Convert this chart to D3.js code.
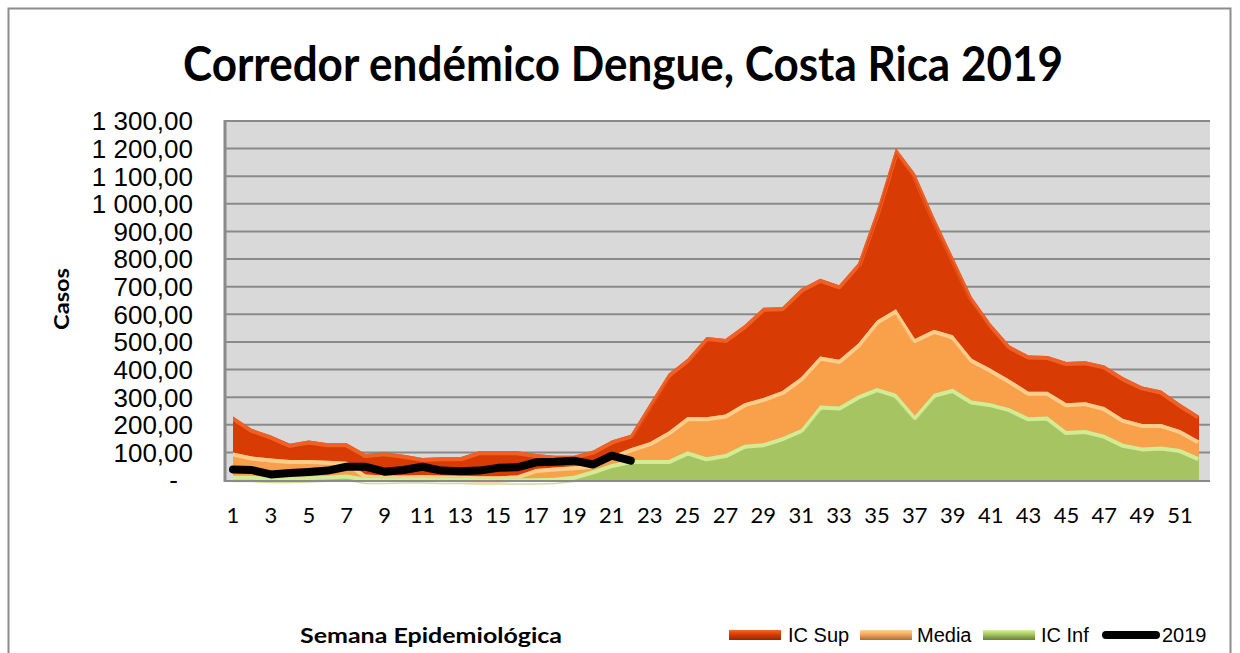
<!DOCTYPE html>
<html lang="es">
<head>
<meta charset="utf-8">
<title>Corredor endémico Dengue</title>
<script src="https://cdn.jsdelivr.net/npm/d3@7"></script>
<style>
  body { margin: 0; background: #fff; }
  svg { display: block; }
</style>
</head>
<body>
<script>

// Semanas epidemiologicas
var weeks = [1,2,3,4,5,6,7,8,9,10,11,12,13,14,15,16,17,18,19,20,21,22,23,24,25,26,
             27,28,29,30,31,32,33,34,35,36,37,38,39,40,41,42,43,44,45,46,47,48,49,50,51,52];

// Series del corredor
var icSup = [230,185,161,131,143,133,133,94,100,91,80,82,82,104,104,104,94,88,88,106,143,164,
             275,385,439,518,511,560,624,626,693,729,705,784,977,1201,1110,953,808,663,566,487,
             451,449,427,430,415,372,339,324,276,233];
var media = [100,85,78,72,72,70,66,20,16,16,18,16,15,14,14,16,40,45,50,55,88,115,
             137,176,228,227,237,278,297,322,372,447,435,493,578,618,511,544,524,439,403,363,
             320,320,278,282,264,221,203,203,181,143];
var icInf = [15,15,12,12,14,16,20,8,8,10,10,8,8,6,6,6,6,8,15,35,58,72,
             72,72,104,82,94,128,133,155,185,270,266,306,333,312,233,312,330,288,278,260,
             227,230,177,181,164,131,118,121,112,82];
// Casos 2019 (semanas 1 a 22)
var y2019 = [38,36,20,25,29,34,48,48,30,36,48,34,32,34,44,46,64,66,70,56,88,70];

var yTicks = [0,100,200,300,400,500,600,700,800,900,1000,1100,1200,1300];
var xTickLabels = [1,3,5,7,9,11,13,15,17,19,21,23,25,27,29,31,33,35,37,39,41,43,45,47,49,51];

var seriesNames = ["IC Sup", "Media", "IC Inf", "2019"];

// Canvas
var w = 1240, h = 653;
var plotL = 225, plotR = 1210, plotT = 121, plotB = 480;

var svg = d3.select("body").append("svg")
  .attr("width", w)
  .attr("height", h);

var defs = svg.append("defs");

// outer chart border
svg.append("rect")
  .attr("x", 8.5).attr("y", 8.5)
  .attr("width", 1222).attr("height", 660)
  .attr("fill", "#fff")
  .attr("stroke", "#8c8c8c")
  .attr("stroke-width", 2);

// Scales
var x = d3.scalePoint().domain(weeks).range([233, 1199]);
var y = d3.scaleLinear().domain([0, 1300]).range([plotB, plotT]);

// plot background
svg.append("rect")
  .attr("x", plotL).attr("y", plotT)
  .attr("width", plotR - plotL).attr("height", plotB - plotT)
  .attr("fill", "#d9d9d9");

// gridlines
svg.append("g")
  .selectAll("line")
  .data(yTicks.slice(1))
  .enter().append("line")
  .attr("x1", plotL).attr("x2", plotR)
  .attr("y1", function(d) { return y(d); })
  .attr("y2", function(d) { return y(d); })
  .attr("stroke", "#8a8a8a")
  .attr("stroke-width", 2);

// left axis line
svg.append("line")
  .attr("x1", plotL).attr("x2", plotL)
  .attr("y1", plotT - 1).attr("y2", plotB + 2)
  .attr("stroke", "#8a8a8a").attr("stroke-width", 3);

// areas (overlapping, back to front)
var layers = [
  { name: "sup", values: icSup, fill: "#d83b03", edge: "#f4672c" },
  { name: "med", values: media, fill: "#f9a04b", edge: "#fdd596" },
  { name: "inf", values: icInf, fill: "#a6c462", edge: "#daf29e" }
];

var area = d3.area()
  .x(function(d, i) { return x(weeks[i]); })
  .y0(y(0))
  .y1(function(d) { return y(d); });

var topLine = d3.line()
  .x(function(d, i) { return x(weeks[i]); })
  .y(function(d) { return y(d); });

layers.forEach(function(l) {
  defs.append("clipPath")
    .attr("id", "clip-" + l.name)
    .append("path")
    .attr("d", area(l.values));

  svg.append("path")
    .attr("d", area(l.values))
    .attr("fill", l.fill);

  // bevel highlight along the top edge
  svg.append("path")
    .attr("d", topLine(l.values))
    .attr("clip-path", "url(#clip-" + l.name + ")")
    .attr("fill", "none")
    .attr("stroke", l.edge)
    .attr("stroke-width", 8)
    .attr("stroke-linejoin", "round")
    .attr("opacity", 0.85);
  svg.append("path")
    .attr("d", topLine(l.values))
    .attr("transform", "translate(0,5)")
    .attr("clip-path", "url(#clip-" + l.name + ")")
    .attr("fill", "none")
    .attr("stroke", l.fill)
    .attr("stroke-width", 3)
    .attr("stroke-linejoin", "round")
    .attr("opacity", 0.6);
});

// bottom axis line
svg.append("line")
  .attr("x1", plotL).attr("x2", plotR)
  .attr("y1", plotB + 1).attr("y2", plotB + 1)
  .attr("stroke", "#8a8a8a").attr("stroke-width", 2);

// 2019 line
var line2019 = d3.line()
  .x(function(d, i) { return x(weeks[i]); })
  .y(function(d) { return y(d); });

svg.append("path")
  .attr("d", line2019(y2019))
  .attr("fill", "none")
  .attr("stroke", "#000")
  .attr("stroke-width", 8)
  .attr("stroke-linecap", "round")
  .attr("stroke-linejoin", "round");

// Y axis labels (formato es: espacio miles, coma decimal)
var loc = d3.formatLocale({ decimal: ",", thousands: "\u00a0", grouping: [3], currency: ["", ""] });
var fmt = loc.format(",.2f");

svg.append("g")
  .selectAll("text")
  .data(yTicks)
  .enter().append("text")
  .attr("x", function(d) { return d === 0 ? 178 : 193; })
  .attr("y", function(d) { return y(d); })
  .attr("dy", "0.36em")
  .attr("text-anchor", "end")
  .attr("font-family", "Liberation Sans, Arial, sans-serif")
  .attr("font-size", 26)
  .attr("fill", "#000")
  .text(function(d) { return d === 0 ? "-" : fmt(d); });

// X axis labels
svg.append("g")
  .selectAll("text")
  .data(xTickLabels)
  .enter().append("text")
  .attr("x", function(d) { return x(d); })
  .attr("y", 523)
  .attr("text-anchor", "middle")
  .attr("font-family", "Lato, sans-serif")
  .attr("font-size", 22)
  .attr("fill", "#000")
  .text(function(d) { return d; });

// Title
svg.append("text")
  .attr("x", 183)
  .attr("y", 81)
  .attr("font-family", "Lato, sans-serif")
  .attr("font-weight", "bold")
  .attr("font-size", 47)
  .attr("textLength", 880)
  .attr("lengthAdjust", "spacingAndGlyphs")
  .text("Corredor endémico Dengue, Costa Rica 2019");

// Axis titles
svg.append("text")
  .attr("transform", "translate(69,299) rotate(-90)")
  .attr("text-anchor", "middle")
  .attr("font-family", "Lato, sans-serif")
  .attr("font-weight", "bold")
  .attr("font-size", 21)
  .attr("textLength", 62)
  .attr("lengthAdjust", "spacingAndGlyphs")
  .text("Casos");

svg.append("text")
  .attr("x", 300)
  .attr("y", 643)
  .attr("font-family", "Lato, sans-serif")
  .attr("font-weight", "bold")
  .attr("font-size", 21)
  .attr("textLength", 262)
  .attr("lengthAdjust", "spacingAndGlyphs")
  .text("Semana Epidemiológica");

// Legend
var swatchGrads = [
  { id: "g-sup", top: "#f4672c", mid: "#d83b03", bot: "#8e2a06" },
  { id: "g-med", top: "#fdd596", mid: "#f5a55a", bot: "#a8703c" },
  { id: "g-inf", top: "#daf29e", mid: "#a6c462", bot: "#667f36" }
];
swatchGrads.forEach(function(g) {
  var lg = defs.append("linearGradient")
    .attr("id", g.id)
    .attr("x1", 0).attr("y1", 0).attr("x2", 0).attr("y2", 1);
  lg.append("stop").attr("offset", "0%").attr("stop-color", g.top);
  lg.append("stop").attr("offset", "45%").attr("stop-color", g.mid);
  lg.append("stop").attr("offset", "100%").attr("stop-color", g.bot);
});

var legendItems = [
  { label: seriesNames[0], sx: 729, tx: 788, grad: "g-sup" },
  { label: seriesNames[1], sx: 860, tx: 917, grad: "g-med" },
  { label: seriesNames[2], sx: 983, tx: 1041, grad: "g-inf" },
  { label: seriesNames[3], sx: 1102, tx: 1162, grad: null }
];

var legend = svg.append("g");
legendItems.forEach(function(it) {
  if (it.grad) {
    legend.append("rect")
      .attr("x", it.sx).attr("y", 630)
      .attr("width", 52).attr("height", 10)
      .attr("fill", "url(#" + it.grad + ")");
  } else {
    legend.append("line")
      .attr("x1", it.sx + 4).attr("x2", it.sx + 54)
      .attr("y1", 635).attr("y2", 635)
      .attr("stroke", "#000")
      .attr("stroke-width", 8)
      .attr("stroke-linecap", "round");
  }
  legend.append("text")
    .attr("x", it.tx)
    .attr("y", 642)
    .attr("font-family", "Liberation Sans, Arial, sans-serif")
    .attr("font-size", 20)
    .attr("fill", "#000")
    .text(it.label);
});

</script>
</body>
</html>
